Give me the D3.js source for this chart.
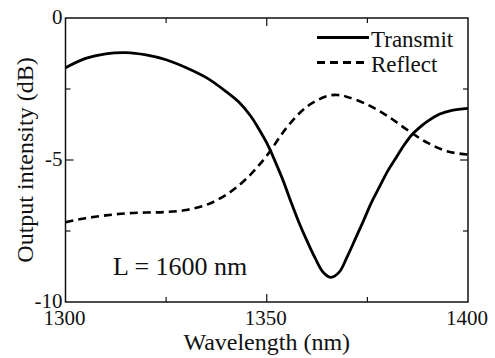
<!DOCTYPE html>
<html>
<head>
<meta charset="utf-8">
<script src="https://cdn.jsdelivr.net/npm/d3@7"></script>
<style>
  body { margin: 0; background: #ffffff; }
  text { font-family: "Liberation Serif", "Times New Roman", serif; fill: #111; }
</style>
</head>
<body>
<div id="chart"></div>
<script>
const width = 495, height = 358;
const margin = { top: 18, left: 65.5, bottom: 56, right: 27 };

const tickFontSize = 21;
const labelFontSize = 24;

// wavelength (nm)
const transmitWl = [1300, 1305, 1310, 1315, 1320, 1325, 1330, 1335, 1340, 1343, 1346, 1348, 1350,
  1352, 1354, 1356, 1358, 1360, 1362, 1364, 1366, 1368, 1370, 1372, 1374, 1376, 1378, 1380,
  1382, 1384, 1386, 1388, 1390, 1393, 1396, 1400];
// output intensity (dB)
const transmitDb = [-1.75, -1.42, -1.26, -1.22, -1.3, -1.47, -1.75, -2.1, -2.6, -2.95, -3.45, -3.9, -4.4,
  -5.02, -5.7, -6.47, -7.2, -7.85, -8.45, -8.95, -9.13, -8.95, -8.4, -7.78, -7.15, -6.5, -5.95, -5.4,
  -4.95, -4.5, -4.12, -3.85, -3.63, -3.38, -3.25, -3.18];

const reflectWl = [1300, 1305, 1310, 1315, 1320, 1325, 1330, 1335, 1340, 1345, 1350, 1355, 1360,
  1365, 1367.5, 1370, 1375, 1380, 1385, 1390, 1395, 1400];
const reflectDb = [-7.19, -7.05, -6.95, -6.88, -6.85, -6.83, -6.76, -6.58, -6.22, -5.65, -4.85, -3.85, -3.12,
  -2.75, -2.71, -2.78, -3.05, -3.45, -3.95, -4.4, -4.7, -4.81];

const xTicks = [1300, 1350, 1400];
const xMinorTicks = [1325, 1375];
const yTicks = [0, -5, -10];
const yMinorTicks = [-2.5, -7.5];

const seriesNames = ["Transmit", "Reflect"];
const annotation = "L = 1600 nm";

const svg = d3.select("#chart")
  .append("svg")
  .attr("width", width)
  .attr("height", height);

const x = d3.scaleLinear().domain([1300, 1400]).range([margin.left, width - margin.right]);
const y = d3.scaleLinear().domain([-10, 0]).range([height - margin.bottom, margin.top]);

const x0 = x.range()[0], x1 = x.range()[1];
const y0 = y.range()[0], y1 = y.range()[1];

// inward ticks on all four sides
const tickG = svg.append("g").attr("stroke", "#111").attr("stroke-width", 1.2);
function vTicks(vals, len) {
  vals.forEach(v => {
    tickG.append("line").attr("x1", x(v)).attr("x2", x(v)).attr("y1", y0).attr("y2", y0 - len);
    tickG.append("line").attr("x1", x(v)).attr("x2", x(v)).attr("y1", y1).attr("y2", y1 + len);
  });
}
function hTicks(vals, len) {
  vals.forEach(v => {
    tickG.append("line").attr("y1", y(v)).attr("y2", y(v)).attr("x1", x0).attr("x2", x0 + len);
    tickG.append("line").attr("y1", y(v)).attr("y2", y(v)).attr("x1", x1).attr("x2", x1 - len);
  });
}
vTicks(xTicks.slice(1, -1), 8);
vTicks(xMinorTicks, 5);
hTicks(yTicks.slice(1, -1), 8);
hTicks(yMinorTicks, 5);

svg.append("rect")
  .attr("x", x0).attr("y", y1)
  .attr("width", x1 - x0).attr("height", y0 - y1)
  .attr("fill", "none")
  .attr("stroke", "#111")
  .attr("stroke-width", 1.5);

// tick labels
svg.append("g").selectAll("text")
  .data(xTicks)
  .join("text")
  .attr("x", d => x(d) - 1)
  .attr("y", y0 + 23)
  .attr("text-anchor", "middle")
  .attr("font-size", tickFontSize)
  .text(d => d);

svg.append("g").selectAll("text")
  .data(yTicks)
  .join("text")
  .attr("x", x0 - 3)
  .attr("y", d => y(d) - 1)
  .attr("dy", "0.35em")
  .attr("text-anchor", "end")
  .attr("font-size", tickFontSize)
  .text(d => d);

// axis titles
svg.append("text")
  .attr("x", x(1350))
  .attr("y", 350)
  .attr("text-anchor", "middle")
  .attr("font-size", labelFontSize)
  .text("Wavelength (nm)");

svg.append("text")
  .attr("transform", `translate(33, ${(y0 + y1) / 2}) rotate(-90)`)
  .attr("text-anchor", "middle")
  .attr("font-size", labelFontSize)
  .text("Output intensity (dB)");

// curves
const line = d3.line()
  .x(d => x(d[0]))
  .y(d => y(d[1]))
  .curve(d3.curveCatmullRom.alpha(0.5));

svg.append("path")
  .datum(transmitWl.map((w, i) => [w, transmitDb[i]]))
  .attr("d", line)
  .attr("fill", "none")
  .attr("stroke", "#000")
  .attr("stroke-width", 2.8);

svg.append("path")
  .datum(reflectWl.map((w, i) => [w, reflectDb[i]]))
  .attr("d", line)
  .attr("fill", "none")
  .attr("stroke", "#000")
  .attr("stroke-width", 2.6)
  .attr("stroke-dasharray", "8,5");

// legend
const legend = svg.append("g");
seriesNames.forEach((name, i) => {
  const ly = 37.5 + i * 25;
  legend.append("line")
    .attr("x1", 317).attr("x2", 369)
    .attr("y1", ly).attr("y2", ly)
    .attr("stroke", "#000")
    .attr("stroke-width", 2.8)
    .attr("stroke-dasharray", i === 0 ? null : "8,5");
  legend.append("text")
    .attr("x", 371)
    .attr("y", ly + 9)
    .attr("font-size", 23)
    .text(name);
});

svg.append("text")
  .attr("x", 113)
  .attr("y", 275)
  .attr("font-size", 26)
  .text(annotation);
</script>
</body>
</html>
